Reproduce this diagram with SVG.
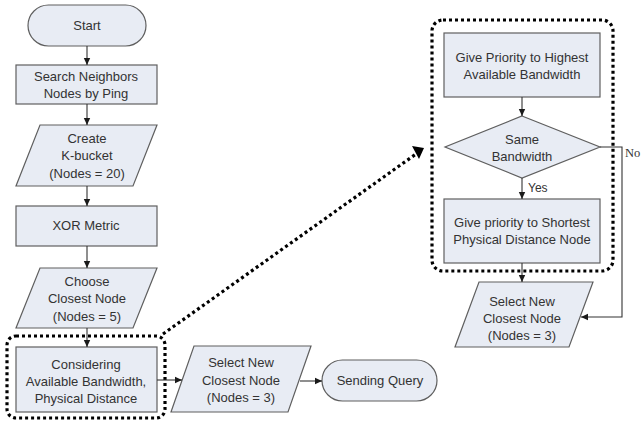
<svg xmlns="http://www.w3.org/2000/svg" width="642" height="421" viewBox="0 0 642 421">
<defs>
<marker id="ah" markerWidth="8" markerHeight="8" refX="7" refY="4" orient="auto" markerUnits="userSpaceOnUse">
<path d="M0,0.8 L7,4 L0,7.2 Z" fill="#1a1a1a"/>
</marker>
<marker id="ahBig" markerWidth="14" markerHeight="14" refX="12" refY="7" orient="auto" markerUnits="userSpaceOnUse">
<path d="M0,1 L12,7 L0,13 Z" fill="#000"/>
</marker>
</defs>
<style>
.n{fill:#e8ecf4;stroke:#5f5f5f;stroke-width:1.2}
.t{font-family:"Liberation Sans",Arial,sans-serif;font-size:13px;fill:#333;text-anchor:middle}
.c{fill:none;stroke:#333;stroke-width:1.1}
.dot{fill:none;stroke:#000;stroke-width:3.2;stroke-dasharray:3 3}
</style>
<rect width="642" height="421" fill="#fff"/>

<g id="start"><rect class="n" x="28" y="5" width="118" height="41" rx="20.5"/><text class="t" x="87" y="30">Start</text></g>
<g id="search"><rect class="n" x="16" y="65" width="141" height="39"/><text class="t" x="86" y="81">Search Neighbors</text><text class="t" x="86" y="98">Nodes by Ping</text></g>
<g id="kbucket"><polygon class="n" points="40,125 157,125 133,186 16,186"/><text class="t" x="87" y="143">Create</text><text class="t" x="87" y="160">K-bucket</text><text class="t" x="87" y="178">(Nodes = 20)</text></g>
<g id="xor"><rect class="n" x="16" y="206" width="141" height="40"/><text class="t" x="86" y="230">XOR Metric</text></g>
<g id="choose"><polygon class="n" points="40,268 157,268 133,328 16,328"/><text class="t" x="87" y="286">Choose</text><text class="t" x="87" y="303">Closest Node</text><text class="t" x="87" y="321">(Nodes = 5)</text></g>
<g id="considering"><rect class="n" x="16" y="347" width="141" height="65"/><text class="t" x="86" y="369">Considering</text><text class="t" x="86" y="386">Available Bandwidth,</text><text class="t" x="86" y="403">Physical Distance</text></g>
<g id="considering-group"><rect class="dot" x="7" y="336" width="158" height="82" rx="9"/></g>
<g id="select1"><polygon class="n" points="194,346 311,346 288,412 171,412"/><text class="t" x="241" y="367">Select New</text><text class="t" x="241" y="385">Closest Node</text><text class="t" x="241" y="402">(Nodes = 3)</text></g>
<g id="query"><rect class="n" x="322" y="360" width="115" height="41" rx="20.5"/><text class="t" x="380" y="385">Sending Query</text></g>

<g id="detail-group"><rect class="dot" x="432" y="20" width="181" height="251" rx="11"/></g>
<g id="highest"><rect class="n" x="444" y="33" width="156" height="64"/><text class="t" x="522" y="62">Give Priority to Highest</text><text class="t" x="522" y="79">Available Bandwidth</text></g>
<g id="same"><polygon class="n" points="522,116 600,147 522,178 445,147"/><text class="t" x="522" y="144">Same</text><text class="t" x="522" y="161">Bandwidth</text></g>
<g id="shortest"><rect class="n" x="444" y="199" width="156" height="64"/><text class="t" x="522" y="227">Give priority to Shortest</text><text class="t" x="522" y="244">Physical Distance Node</text></g>
<g id="select2"><polygon class="n" points="479,282 593,282 569,347 455,347"/><text class="t" x="522" y="306">Select New</text><text class="t" x="522" y="323">Closest Node</text><text class="t" x="522" y="340">(Nodes = 3)</text></g>

<g id="connectors">
<path class="c" d="M87,46 V65" marker-end="url(#ah)"/>
<path class="c" d="M87,104 V125" marker-end="url(#ah)"/>
<path class="c" d="M87,186 V206" marker-end="url(#ah)"/>
<path class="c" d="M87,246 V268" marker-end="url(#ah)"/>
<path class="c" d="M87,328 V347" marker-end="url(#ah)"/>
<path class="c" d="M157,380 H182" marker-end="url(#ah)"/>
<path class="c" d="M300,381 H322" marker-end="url(#ah)"/>
<path class="c" d="M522,97 V116" marker-end="url(#ah)"/>
<path class="c" d="M522,178 V199" marker-end="url(#ah)"/>
<path class="c" d="M522,263 V282" marker-end="url(#ah)"/>
<path class="c" d="M600,147 H622 V317 H581" marker-end="url(#ah)"/>
<path class="dot" d="M163,334 L416,154"/>
<path d="M412,146 L424,148 L419,159 Z" fill="#000"/>
<text x="528" y="192" font-family="Liberation Sans,Arial,sans-serif" font-size="12" fill="#333">Yes</text>
<text x="625" y="157" font-family="Liberation Serif,'Times New Roman',serif" font-size="12.5" fill="#333">No</text>
</g>
</svg>
